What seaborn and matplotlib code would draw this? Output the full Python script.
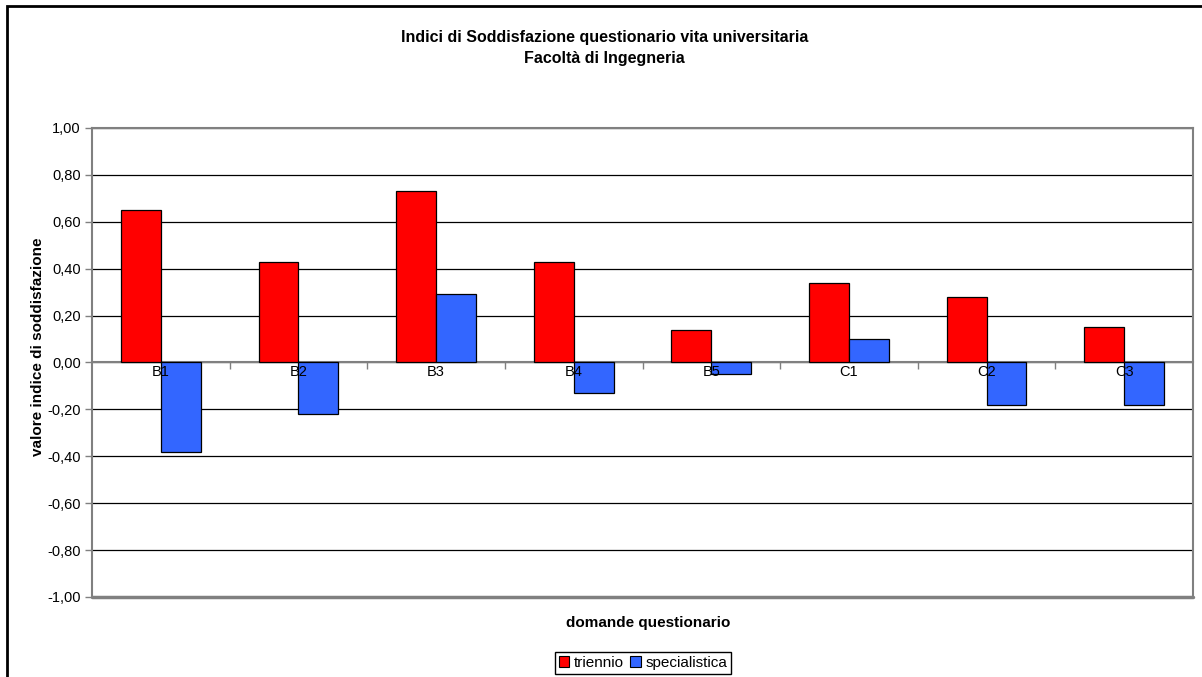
import pandas as pd
import numpy as np
import matplotlib
matplotlib.use("Agg")
import matplotlib.pyplot as plt
import matplotlib.patches as patches
from matplotlib.ticker import FuncFormatter, FixedLocator
import seaborn as sns

sns.set_style("white")
plt.rcParams['font.family'] = ['Liberation Sans', 'DejaVu Sans']
plt.rcParams['text.color'] = 'black'
plt.rcParams['axes.labelcolor'] = 'black'
plt.rcParams['xtick.labelcolor'] = 'black'
plt.rcParams['ytick.labelcolor'] = 'black'

# dati
domande = ['B1', 'B2', 'B3', 'B4', 'B5', 'C1', 'C2', 'C3']
triennio = [0.65, 0.43, 0.73, 0.43, 0.14, 0.34, 0.28, 0.15]
specialistica = [-0.38, -0.22, 0.29, -0.13, -0.05, 0.10, -0.18, -0.18]
serie = ['triennio', 'specialistica']
colori = ['#FF0000', '#3366FF']

df = pd.DataFrame({
    'domanda': domande * 2,
    'valore': triennio + specialistica,
    'serie': [serie[0]] * len(domande) + [serie[1]] * len(domande),
})

W, H = 1202, 677
fig = plt.figure(figsize=(W / 100, H / 100), dpi=100)
ax = fig.add_axes([92 / W, 1 - 597 / H, (1193 - 92) / W, (597 - 128) / H])

sns.barplot(data=df, x='domanda', y='valore', hue='serie', palette=colori, saturation=1,
            edgecolor='black', linewidth=0.9, width=0.58, ax=ax, zorder=3)

ax.set_xlim(-0.5, len(domande) - 0.5)
ax.set_ylim(-1, 1)
ax.yaxis.set_major_locator(FixedLocator(np.round(np.arange(-1, 1.01, 0.2), 2)))
ax.yaxis.set_major_formatter(FuncFormatter(lambda v, _: f"{round(v, 2) + 0.0:.2f}".replace('.', ',')))
ax.grid(axis='y', color='black', linewidth=0.9, zorder=0)
ax.set_axisbelow(True)
ax.xaxis.set_zorder(5)  # etichette categorie sopra le barre

# bordo area del grafico
grigio = '#808080'
for s in ['left', 'right', 'top']:
    ax.spines[s].set_color(grigio)
    ax.spines[s].set_linewidth(1.5)
ax.spines['bottom'].set_position(('data', 0))
ax.spines['bottom'].set_color(grigio)
ax.spines['bottom'].set_linewidth(1.5)
ax.axhline(-1, color=grigio, linewidth=2.5, zorder=4, clip_on=False)

ax.tick_params(axis='y', which='major', direction='out', length=5, width=1,
               color=grigio, labelsize=10.5, pad=3, left=True)
ax.set_xticks(range(len(domande)))
ax.set_xticklabels(domande)
ax.tick_params(axis='x', which='major', length=0, labelsize=10.5, pad=2)
ax.set_xticks(np.arange(0.5, len(domande) - 0.5, 1), minor=True)
ax.tick_params(axis='x', which='minor', direction='out', length=5, width=1,
               color=grigio, bottom=True)

ax.set_xlabel('domande questionario', fontsize=11, fontweight='bold')
ax.xaxis.set_label_coords(0.505, -0.04)
ax.xaxis.label.set_va('top')
ax.set_ylabel('valore indice di soddisfazione', fontsize=11, fontweight='bold')
ax.yaxis.set_label_coords(-0.043, 0.533)

fig.text(0.503, 1 - 30 / H,
         'Indici di Soddisfazione questionario vita universitaria\nFacoltà di Ingegneria',
         ha='center', va='top', fontsize=11.5, fontweight='bold', linespacing=1.5)

ax.legend_.remove()
handles = [patches.Patch(facecolor=c, edgecolor='black', linewidth=0.8) for c in colori]
fig.legend(handles, serie, loc='center', bbox_to_anchor=(643 / W, 1 - 663 / H),
           ncol=2, fontsize=11, frameon=True, fancybox=False, edgecolor='black',
           framealpha=1, handlelength=0.7, handleheight=0.7, handletextpad=0.3,
           columnspacing=0.4, borderpad=0.25, borderaxespad=0)

# cornice esterna
fig.add_artist(patches.Rectangle((7 / W, -0.1), 1.2, 1.1 - 6 / H, transform=fig.transFigure,
                                 fill=False, edgecolor='black', linewidth=2))

fig.savefig('out.png', dpi=100)
